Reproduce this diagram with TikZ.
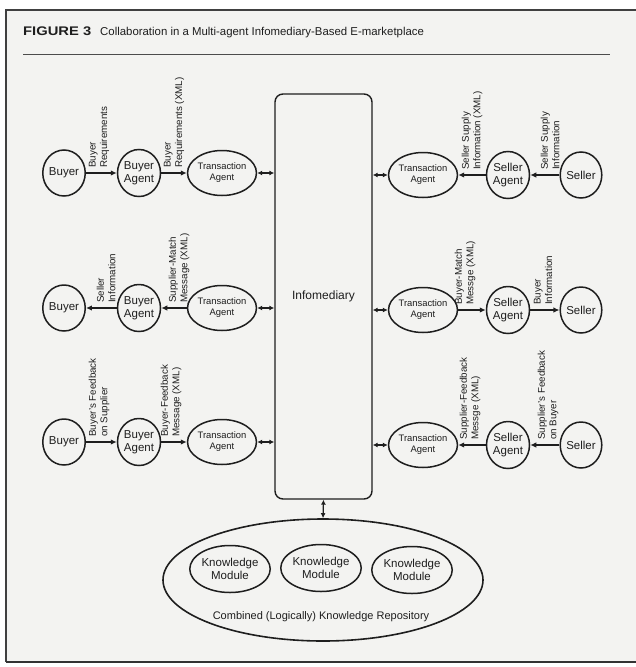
\documentclass[tikz,border=0pt]{standalone}
\usepackage{fontspec}
\setmainfont{Liberation Sans}
\usetikzlibrary{shapes.geometric,arrows.meta}
\definecolor{bgpaper}{HTML}{F3F3F1}
\definecolor{inkc}{HTML}{1E1E1E}
\begin{document}
\begin{tikzpicture}[x=1pt,y=-1pt,
  ell/.style={ellipse,draw=inkc,line width=1.5pt,inner sep=0pt,align=center,text=inkc,
    font=\fontsize{11.5}{12.7}\selectfont},
  person/.style={ell,minimum width=37pt,minimum height=46pt},
  agent/.style={ell,minimum width=43pt,minimum height=47pt},
  trans/.style={ell,minimum width=57pt,minimum height=45pt,font=\fontsize{9.4}{11}\selectfont},
  kmod/.style={ell,minimum width=68pt,minimum height=47pt},
  lab/.style={rotate=90,anchor=west,align=left,inner sep=0pt,text=inkc,
    font=\fontsize{9.8}{11.5}\selectfont},
  arr/.style={draw=inkc,line width=1.4pt,-{Latex[length=6pt,width=5.5pt]}},
  darr/.style={draw=inkc,line width=1.2pt,{Latex[length=5pt,width=5pt]}-{Latex[length=5pt,width=5pt]}},
]
\useasboundingbox (0,0) rectangle (636,667);
\begin{scope}
\clip (0,0) rectangle (636,667);
\fill[bgpaper] (6,10) rectangle (650,662);
\draw[line width=1.2pt,black!75] (650,10) -- (6,10) -- (6,662);
\draw[line width=2pt,black!80] (6,662) -- (650,662);
\end{scope}

% title
\node[anchor=base west,inner sep=0pt,text=inkc] (fig) at (23,35)
  {\scalebox{1.18}[1]{\fontsize{12.5}{14}\selectfont\bfseries FIGURE 3}};
\node[anchor=base west,inner sep=0pt,text=inkc,font=\fontsize{11.4}{13}\selectfont] (cap) at (100,35)
  {Collaboration in a Multi-agent Infomediary-Based E-marketplace};
\draw[line width=0.8pt,black!70] (23,54) -- (610,54);

% infomediary
\node[draw=inkc,rounded corners=8pt,line width=1.4pt,minimum width=97pt,minimum height=405pt,
  inner sep=0pt,text=inkc,font=\fontsize{12}{14}\selectfont] (info) at (323.5,296.5) {Infomediary};

% row 1 left
\node[person] (b1) at (64,173) {Buyer};
\node[agent] (ba1) at (139,173) {Buyer\\Agent};
\node[trans] (tl1) at (222,173) {Transaction\\Agent};
% row 1 right
\node[trans] (tr1) at (423,175) {Transaction\\Agent};
\node[agent] (sa1) at (508,175) {Seller\\Agent};
\node[person] (s1) at (581,175) {Seller};

% row 2 left
\node[person] (b2) at (64,308) {Buyer};
\node[agent] (ba2) at (139,308) {Buyer\\Agent};
\node[trans] (tl2) at (222,308) {Transaction\\Agent};
% row 2 right
\node[trans] (tr2) at (423,310) {Transaction\\Agent};
\node[agent] (sa2) at (508,310) {Seller\\Agent};
\node[person] (s2) at (581,310) {Seller};

% row 3 left
\node[person] (b3) at (64,442) {Buyer};
\node[agent] (ba3) at (139,442) {Buyer\\Agent};
\node[trans] (tl3) at (222,442) {Transaction\\Agent};
% row 3 right
\node[trans] (tr3) at (423,445) {Transaction\\Agent};
\node[agent] (sa3) at (508,445) {Seller\\Agent};
\node[person] (s3) at (581,445) {Seller};

% arrows
\draw[arr] (b1) -- (ba1);
\draw[arr] (ba1) -- (tl1);
\draw[arr] (s1) -- (sa1);
\draw[arr] (sa1) -- (tr1);
\draw[arr] (tl2) -- (ba2);
\draw[arr] (ba2) -- (b2);
\draw[arr] (tr2) -- (sa2);
\draw[arr] (sa2) -- (s2);
\draw[arr] (b3) -- (ba3);
\draw[arr] (ba3) -- (tl3);
\draw[arr] (s3) -- (sa3);
\draw[arr] (sa3) -- (tr3);

\foreach \n in {tl1,tl2,tl3}{\draw[darr] (\n.east) -- (\n.east -| info.west);}
\foreach \n in {tr1,tr2,tr3}{\draw[darr] (\n.west) -- (\n.west -| info.east);}

% labels
\node[lab] (l1a) at (99,168) {Buyer\\Requirements};
\node[lab] (l1b) at (174,168) {Buyer\\Requirements (XML)};
\node[lab] (r1a) at (472,170) {Seller Supply\\Information (XML)};
\node[lab] (r1b) at (550,170) {Seller Supply\\Information};
\node[lab] (l2a) at (106,303) {Seller\\Information};
\node[lab] (l2b) at (179,303) {Supplier-Match\\Message (XML)};
\node[lab] (r2a) at (465,305) {Buyer-Match\\Messge (XML)};
\node[lab] (r2b) at (543,305) {Buyer\\Information};
\node[lab] (l3a) at (99,437) {Buyer's Feedback\\on Supplier};
\node[lab] (l3b) at (171,437) {Buyer-Feedback\\Message (XML)};
\node[lab] (r3a) at (470,440) {Supplier-Feedback\\Messge (XML)};
\node[lab] (r3b) at (548,440) {Supplier's Feedback\\on Buyer};

% knowledge repository
\node[ellipse,draw=inkc,line width=1.6pt,minimum width=320pt,minimum height=122pt,inner sep=0pt] (kr) at (323,580) {};
\node[kmod] (k1) at (230,569) {Knowledge\\Module};
\node[kmod] (k2) at (321,568) {Knowledge\\Module};
\node[kmod] (k3) at (412,570) {Knowledge\\Module};
\node[inner sep=0pt,text=inkc,font=\fontsize{11}{13}\selectfont] (krl) at (321,617) {Combined (Logically) Knowledge Repository};
\draw[darr] (info.south) -- (kr.north);
\end{tikzpicture}
\end{document}
